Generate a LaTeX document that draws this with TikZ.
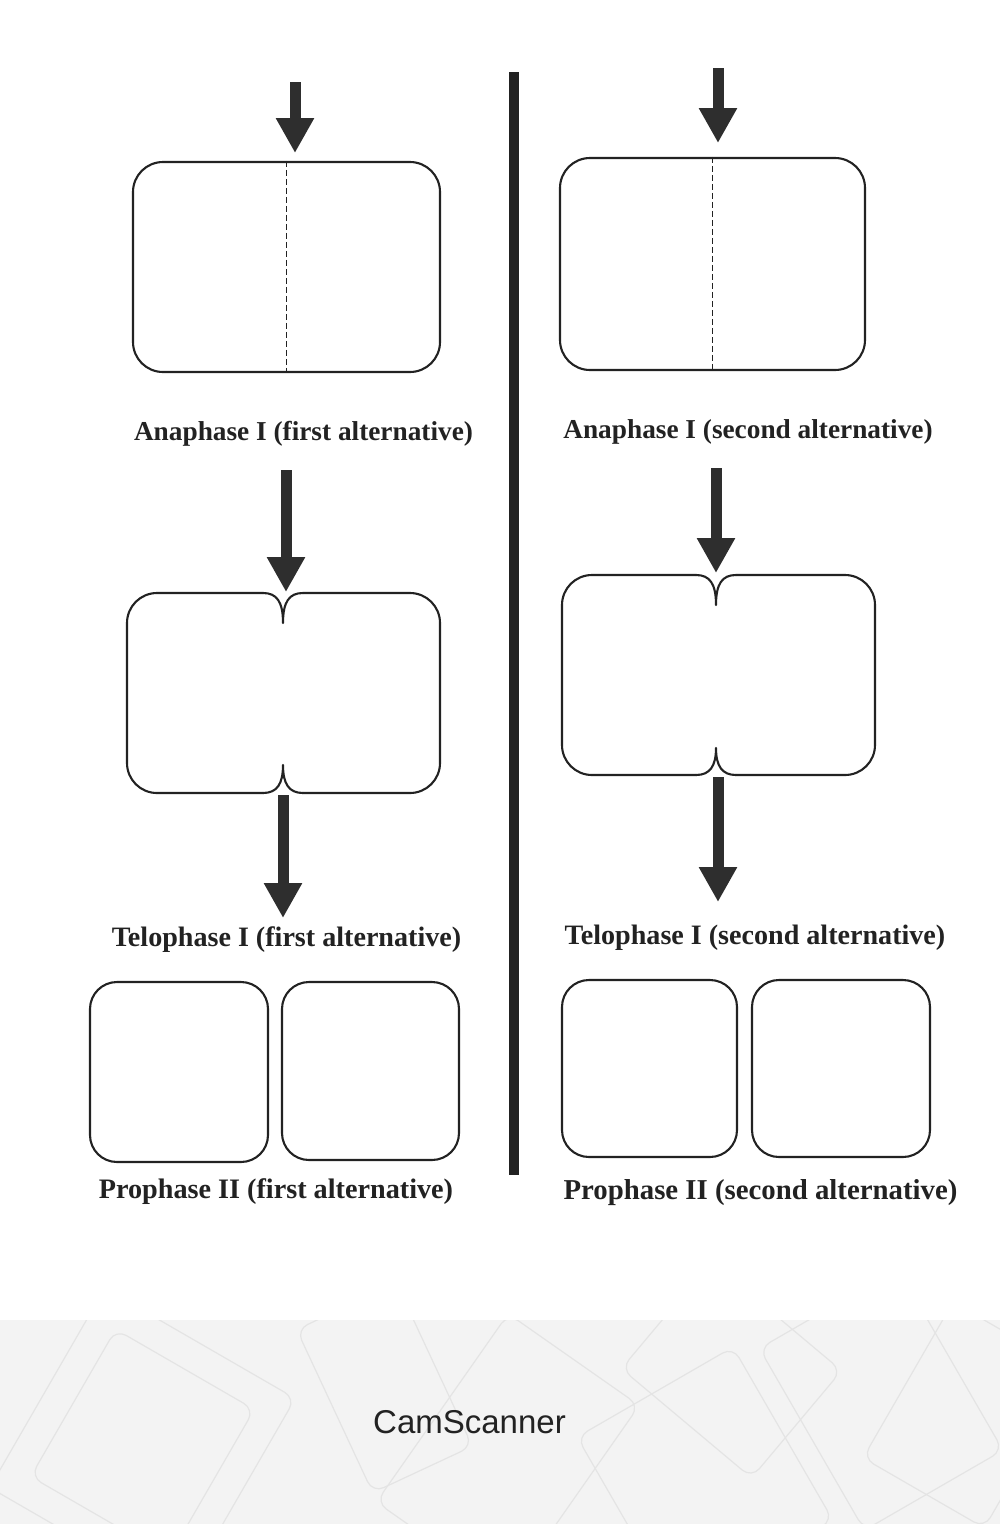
\documentclass[tikz,border=0pt]{standalone}
\usepackage{fontspec}
\setmainfont{Liberation Serif}
\newfontfamily\bannerfont{Liberation Sans}
\usetikzlibrary{arrows.meta}
\definecolor{ink}{HTML}{222222}
\definecolor{arrowgray}{HTML}{2E2E2E}
\definecolor{bannerbg}{HTML}{F3F3F3}
\definecolor{bannerline}{HTML}{E4E4E4}
\begin{document}
\begin{tikzpicture}[x=1pt,y=-1pt,
  cellbox/.style={draw=ink,line width=2.1pt,rounded corners=30pt,inner sep=0pt},
  cellline/.style={draw=ink,line width=2.1pt,line cap=round,line join=round},
  fatarrow/.style={draw=arrowgray,line width=11pt,-{Triangle[width=36pt,length=35pt,fill=arrowgray]}},
  midline/.style={draw=ink,line width=1.4pt,dash pattern=on 6pt off 3pt},
  phase/.style={font=\fontsize{#1}{30}\selectfont\bfseries,text=ink,anchor=base,inner sep=0pt},
  phase/.default=27.8,
  bannerart/.style={draw=bannerline,line width=1.2pt,rounded corners=12pt}
]
\useasboundingbox[fill=white] (0,0) rectangle (1000,1524);

% ---- divider ----
\draw[draw=ink,line width=9.5pt] (514,72) -- (514,1175);

% ================= LEFT COLUMN =================
% Anaphase I (first)
\node[cellbox,minimum width=307pt,minimum height=210pt] (la) at (286.5,267) {};
\draw[midline] (la.north) -- (la.south);
\coordinate (la0) at (295,82);
\draw[fatarrow] (la0) -- (295,153);
\node[phase=27.3] (lal) at (303.5,440) {Anaphase I (first alternative)};

% Telophase I (first)
\node[minimum width=313pt,minimum height=200pt,inner sep=0pt] (lt) at (283.5,693) {};
\draw[cellline,rounded corners=30pt] (263,593) -- (127,593) -- (127,793) -- (263,793);
\draw[cellline,rounded corners=30pt] (303,593) -- (440,593) -- (440,793) -- (303,793);
\draw[cellline] (263,593) .. controls (277,593) and (283,602) .. (283,623)
                .. controls (283,602) and (289,593) .. (303,593);
\draw[cellline] (263,793) .. controls (277,793) and (283,784) .. (283,765)
                .. controls (283,784) and (289,793) .. (303,793);
\coordinate (lt0) at (286,470);
\draw[fatarrow] (lt0) -- (286,592);
\coordinate (lt1) at (283,918);
\draw[fatarrow] (283,795) -- (lt1);
\node[phase=28.1] (ltl) at (286.5,946) {Telophase I (first alternative)};

% Prophase II (first)
\node[cellbox,rounded corners=27pt,minimum width=178pt,minimum height=180pt] (lp1) at (179,1072) {};
\node[cellbox,rounded corners=27pt,minimum width=177pt,minimum height=178pt] (lp2) at (370.5,1071) {};
\node[phase=28.2] (lpl) at (276,1198) {Prophase II (first alternative)};

% ================= RIGHT COLUMN =================
% Anaphase I (second)
\node[cellbox,minimum width=305pt,minimum height=212pt] (ra) at (712.5,264) {};
\draw[midline] (ra.north) -- (ra.south);
\coordinate (ra0) at (718,68);
\draw[fatarrow] (ra0) -- (718,143);
\node[phase=27.3] (ral) at (748,438) {Anaphase I (second alternative)};

% Telophase I (second)
\node[minimum width=313pt,minimum height=200pt,inner sep=0pt] (rt) at (718.5,675) {};
\draw[cellline,rounded corners=30pt] (696,575) -- (562,575) -- (562,775) -- (696,775);
\draw[cellline,rounded corners=30pt] (736,575) -- (875,575) -- (875,775) -- (736,775);
\draw[cellline] (696,575) .. controls (710,575) and (716,584) .. (716,605)
                .. controls (716,584) and (722,575) .. (736,575);
\draw[cellline] (696,775) .. controls (710,775) and (716,766) .. (716,748)
                .. controls (716,766) and (722,775) .. (736,775);
\coordinate (rt0) at (716,468);
\draw[fatarrow] (rt0) -- (716,573);
\coordinate (rt1) at (718,902);
\draw[fatarrow] (718,777) -- (rt1);
\node[phase=28.1] (rtl) at (755,944) {Telophase I (second alternative)};

% Prophase II (second)
\node[cellbox,rounded corners=27pt,minimum width=175pt,minimum height=177pt] (rp1) at (649.5,1068.5) {};
\node[cellbox,rounded corners=27pt,minimum width=178pt,minimum height=177pt] (rp2) at (841,1068.5) {};
\node[phase=28.8] (rpl) at (760.5,1199) {Prophase II (second alternative)};

% ================= BANNER =================
\fill[bannerbg] (0,1320) rectangle (1000,1524);
\begin{scope}
\clip (0,1320) rectangle (1000,1524);
\draw[bannerart,rotate around={-30:(150,1430)}] (40,1330) rectangle (260,1560);
\draw[bannerart,rotate around={-30:(150,1430)}] (70,1360) rectangle (230,1530);
\draw[bannerart,rotate around={25:(380,1390)}] (330,1300) rectangle (440,1480);
\draw[bannerart,rotate around={-35:(500,1430)}] (440,1330) rectangle (600,1560);
\draw[bannerart,rotate around={30:(700,1470)}] (610,1380) rectangle (790,1580);
\draw[bannerart,rotate around={-40:(720,1360)}] (650,1290) rectangle (820,1430);
\draw[bannerart,rotate around={30:(870,1400)}] (800,1300) rectangle (960,1510);
\draw[bannerart,rotate around={-30:(960,1410)}] (900,1320) rectangle (1040,1500);
\end{scope}
\node[font=\bannerfont\fontsize{33}{38}\selectfont,text=ink,anchor=base,inner sep=0pt] (cs) at (469.5,1433) {CamScanner};
\end{tikzpicture}
\end{document}
